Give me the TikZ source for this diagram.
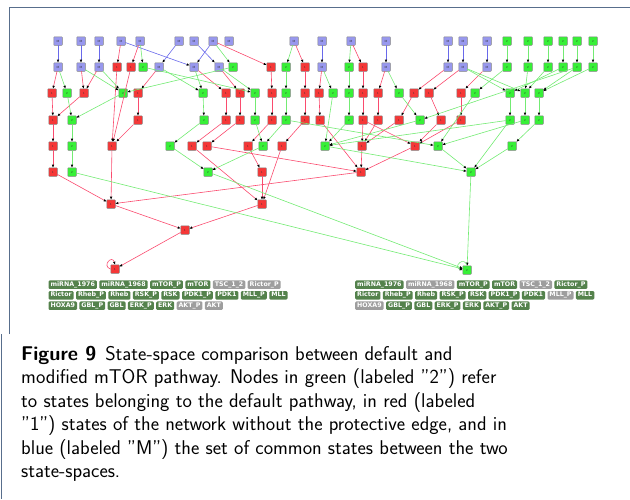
\documentclass[tikz,border=0pt]{standalone}
\usepackage{fontspec}
\newfontfamily\tagfont{DejaVu Sans}
\usepackage{tikz}
\usetikzlibrary{arrows.meta}
\usetikzlibrary{positioning}
\definecolor{stM}{RGB}{152,152,238}
\definecolor{stR}{RGB}{245,55,55}
\definecolor{stG}{RGB}{55,240,55}
\definecolor{stedge}{RGB}{130,130,130}
\definecolor{edM}{RGB}{105,105,235}
\definecolor{edR}{RGB}{250,75,110}
\definecolor{edG}{RGB}{115,235,115}
\definecolor{tagon}{RGB}{84,130,76}
\definecolor{tagoff}{RGB}{158,158,158}
\definecolor{framec}{RGB}{88,110,140}
\begin{document}
\begin{tikzpicture}[line cap=round,line join=round,>={Triangle[length=2.8pt,width=2.2pt,color=black]},x=1pt,y=-1pt,
  st/.style={draw=stedge,line width=0.5pt,fill=st#1,rounded corners=0.6pt,minimum size=8.5pt,inner sep=0pt,font=\sffamily\fontsize{3}{3}\selectfont,text=black!80},
  eM/.style={->,draw=edM,line width=0.6pt},
  eR/.style={->,draw=edR,line width=0.6pt},
  eG/.style={->,draw=edG,line width=0.6pt},
  tag/.style={fill=#1,rounded corners=1.2pt,text=white,font=\tagfont\bfseries\fontsize{6.3}{7}\selectfont,inner xsep=2pt,inner ysep=1.3pt,text height=4.6pt,text depth=1.3pt}]
\useasboundingbox (0,0) rectangle (630,499);
\draw [framec,line width=1pt,line cap=butt] (9.3,334)-- (9.3,7.3)-- (630,7.3);
\draw [framec,line width=1pt,line cap=butt] (1.2,334)-- (1.2,499);
\draw (58,41) node[st=M] (a1) {M};
\draw (81,41) node[st=M] (a2) {M};
\draw (99,41) node[st=M] (a3) {M};
\draw (121,41) node[st=M] (a4) {M};
\draw (140,41) node[st=M] (a5) {M};
\draw (179,41) node[st=M] (a6) {M};
\draw (194,41) node[st=M] (a7) {M};
\draw (213,41) node[st=M] (a8) {M};
\draw (229,41) node[st=M] (a9) {M};
\draw (294,41) node[st=M] (a10) {M};
\draw (322,41) node[st=M] (a11) {M};
\draw (351,41) node[st=M] (a12) {M};
\draw (386,41) node[st=M] (a13) {M};
\draw (448,41) node[st=M] (a14) {M};
\draw (463,41) node[st=M] (a15) {M};
\draw (487,41) node[st=M] (a16) {M};
\draw (507,41) node[st=G] (a17) {2};
\draw (528,41) node[st=G] (a18) {2};
\draw (548,41) node[st=G] (a19) {2};
\draw (563,41) node[st=G] (a20) {2};
\draw (577,41) node[st=G] (a21) {2};
\draw (593,41) node[st=G] (a22) {2};
\draw (58,67) node[st=M] (b1) {M};
\draw (81,67) node[st=M] (b2) {M};
\draw (99,67) node[st=M] (b3) {M};
\draw (117,67) node[st=R] (b4) {1};
\draw (131,67) node[st=R] (b5) {1};
\draw (143,67) node[st=G] (b6) {2};
\draw (159,67) node[st=M] (b7) {M};
\draw (194,67) node[st=M] (b8) {M};
\draw (219,67) node[st=M] (b9) {M};
\draw (233,67) node[st=G] (b10) {2};
\draw (271,67) node[st=R] (b11) {1};
\draw (286,67) node[st=G] (b12) {2};
\draw (305,67) node[st=R] (b13) {1};
\draw (322,67) node[st=M] (b14) {M};
\draw (349,67) node[st=G] (b15) {2};
\draw (363,67) node[st=R] (b16) {1};
\draw (386,67) node[st=M] (b17) {M};
\draw (448,67) node[st=M] (b18) {M};
\draw (463,67) node[st=M] (b19) {M};
\draw (487,67) node[st=M] (b20) {M};
\draw (507,67) node[st=G] (b21) {2};
\draw (528,67) node[st=G] (b22) {2};
\draw (548,67) node[st=G] (b23) {2};
\draw (563,67) node[st=G] (b24) {2};
\draw (577,67) node[st=G] (b25) {2};
\draw (593,67) node[st=G] (b26) {2};
\draw (52,93) node[st=R] (c1) {1};
\draw (67,93) node[st=G] (c2) {2};
\draw (84,93) node[st=R] (c3) {1};
\draw (123,93) node[st=G] (c4) {2};
\draw (138,93) node[st=R] (c5) {1};
\draw (203,93) node[st=G] (c6) {2};
\draw (226,93) node[st=R] (c7) {1};
\draw (240,93) node[st=R] (c8) {1};
\draw (255,93) node[st=G] (c9) {2};
\draw (272,93) node[st=R] (c10) {1};
\draw (286,93) node[st=G] (c11) {2};
\draw (305,93) node[st=R] (c12) {1};
\draw (319,93) node[st=R] (c13) {1};
\draw (333,93) node[st=G] (c14) {2};
\draw (349,93) node[st=G] (c15) {2};
\draw (363,93) node[st=R] (c16) {1};
\draw (378,93) node[st=R] (c17) {1};
\draw (399,93) node[st=G] (c18) {2};
\draw (414,93) node[st=R] (c19) {1};
\draw (429,93) node[st=R] (c20) {1};
\draw (461,93) node[st=R] (c21) {1};
\draw (475,93) node[st=G] (c22) {2};
\draw (510,93) node[st=G] (c23) {2};
\draw (525,93) node[st=G] (c24) {2};
\draw (539,93) node[st=G] (c25) {2};
\draw (53,120) node[st=R] (d1) {1};
\draw (72,120) node[st=G] (d2) {2};
\draw (138,120) node[st=R] (d3) {1};
\draw (204,120) node[st=G] (d4) {2};
\draw (226,120) node[st=R] (d5) {1};
\draw (240,120) node[st=R] (d6) {1};
\draw (255,120) node[st=G] (d7) {2};
\draw (272,120) node[st=R] (d8) {1};
\draw (286,120) node[st=G] (d9) {2};
\draw (305,120) node[st=R] (d10) {1};
\draw (320,120) node[st=R] (d11) {1};
\draw (349,120) node[st=G] (d12) {2};
\draw (363,120) node[st=R] (d13) {1};
\draw (378,120) node[st=R] (d14) {1};
\draw (399,120) node[st=R] (d15) {1};
\draw (420,120) node[st=G] (d16) {2};
\draw (441,120) node[st=R] (d17) {1};
\draw (461,120) node[st=R] (d18) {1};
\draw (510,120) node[st=G] (d19) {2};
\draw (525,120) node[st=G] (d20) {2};
\draw (539,120) node[st=G] (d21) {2};
\draw (53,146) node[st=R] (e1) {1};
\draw (72,146) node[st=G] (e2) {2};
\draw (112,146) node[st=R] (e3) {1};
\draw (170,146) node[st=G] (e4) {2};
\draw (192,146) node[st=R] (e5) {1};
\draw (207,146) node[st=R] (e6) {1};
\draw (248,146) node[st=R] (e7) {1};
\draw (263,146) node[st=G] (e8) {2};
\draw (282,146) node[st=R] (e9) {1};
\draw (325,146) node[st=G] (e10) {2};
\draw (362,146) node[st=R] (e11) {1};
\draw (415,146) node[st=R] (e12) {1};
\draw (438,146) node[st=G] (e13) {2};
\draw (512,146) node[st=G] (e14) {2};
\draw (53,172) node[st=R] (f1) {1};
\draw (72,172) node[st=G] (f2) {2};
\draw (208,172) node[st=G] (f3) {2};
\draw (262,172) node[st=R] (f4) {1};
\draw (361,172) node[st=R] (f5) {1};
\draw (471,172) node[st=G] (f6) {2};
\draw (111,204) node[st=R] (g1) {1};
\draw (262,204) node[st=R] (g2) {1};
\draw (185,230) node[st=R] (h1) {1};
\draw (115,269) node[st=R] (i1) {1};
\draw (467,270) node[st=G] (i2) {2};
\draw [eM] (a1)-- (b1);
\draw [eM] (a2)-- (b2);
\draw [eM] (a3)-- (b3);
\draw [eM] (a4)-- (b8);
\draw [eM] (a6)-- (b7);
\draw [eM] (a7)-- (b9);
\draw [eM] (a8)-- (b8);
\draw [eM] (a11)-- (b14);
\draw [eM] (a13)-- (b17);
\draw [eM] (a14)-- (b18);
\draw [eM] (a15)-- (b19);
\draw [eM] (a16)-- (b20);
\draw [eR] (a4)-- (b4);
\draw [eR] (a5)-- (b5);
\draw [eR] (a8)-- (b11);
\draw [eR] (a10)-- (b13);
\draw [eR] (a12)-- (b16);
\draw [eR] (b1)-- (c1);
\draw [eR] (b2)-- (c3);
\draw [eR] (b3)-- (c3);
\draw [eR] (b4)-- (e3);
\draw [eR] (b5)-- (e3);
\draw [eR] (b7)-- (c5);
\draw [eR] (b8)-- (c7);
\draw [eR] (b9)-- (c8);
\draw [eR] (b11)-- (c10);
\draw [eR] (b13)-- (c12);
\draw [eR] (b14)-- (c13);
\draw [eR] (b16)-- (c16);
\draw [eR] (b17)-- (c17);
\draw [eR] (b18)-- (c19);
\draw [eR] (b19)-- (c20);
\draw [eR] (b20)-- (c21);
\draw [eR] (c1)-- (d1);
\draw [eR] (c3)-- (d1);
\draw [eR] (c5)-- (d3);
\draw [eR] (c7)-- (d5);
\draw [eR] (c8)-- (d6);
\draw [eR] (c10)-- (d8);
\draw [eR] (c12)-- (d10);
\draw [eR] (c13)-- (d11);
\draw [eR] (c16)-- (d13);
\draw [eR] (c17)-- (d14);
\draw [eR] (c19)-- (d15);
\draw [eR] (c20)-- (d17);
\draw [eR] (c21)-- (d18);
\draw [eR] (d1)-- (e1);
\draw [eR] (d3)-- (e3);
\draw [eR] (d5)-- (e5);
\draw [eR] (d6)-- (e6);
\draw [eR] (d8)-- (e7);
\draw [eR] (d10)-- (e9);
\draw [eR] (d11)-- (f5);
\draw [eR] (d13)-- (e11);
\draw [eR] (d13)-- (e12);
\draw [eR] (d14)-- (e11);
\draw [eR] (d15)-- (e11);
\draw [eR] (d17)-- (e12);
\draw [eR] (d18)-- (e12);
\draw [eR] (e1)-- (f1);
\draw [eR] (e3)-- (g1);
\draw [eR] (e5)-- (g2);
\draw [eR] (e6)-- (f5);
\draw [eR] (e7)-- (f4);
\draw [eR] (e9)-- (g2);
\draw [eR] (e11)-- (f5);
\draw [eR] (e12)-- (f5);
\draw [eR] (f1)-- (g1);
\draw [eR] (f4)-- (g2);
\draw [eR] (f5)-- (g1);
\draw [eR] (g1)-- (h1);
\draw [eR] (g2)-- (h1);
\draw [eR] (h1)-- (i1);
\draw [eR] (i1.west) .. controls +(-9,-3) and +(-3,-10) .. (i1.north);
\draw [eG] (a5)-- (b6);
\draw [eG] (a8)-- (b10);
\draw [eG] (a10)-- (b12);
\draw [eG] (a12)-- (b15);
\draw [eG] (a17)-- (b21);
\draw [eG] (a18)-- (b22);
\draw [eG] (a19)-- (b23);
\draw [eG] (a20)-- (b24);
\draw [eG] (a21)-- (b25);
\draw [eG] (a22)-- (b26);
\draw [eG] (b1)-- (c2);
\draw [eG] (b2)-- (c4);
\draw [eG] (b3)-- (c4);
\draw [eG] (b6)-- (c9);
\draw [eG] (b7)-- (c6);
\draw [eG] (b8)-- (c6);
\draw [eG] (b9)-- (c9);
\draw [eG] (b10)-- (c4);
\draw [eG] (b12)-- (c11);
\draw [eG] (b14)-- (c14);
\draw [eG] (b15)-- (c15);
\draw [eG] (b17)-- (c18);
\draw [eG] (b19)-- (c23);
\draw [eG] (b19)-- (c24);
\draw [eG] (b21)-- (c22);
\draw [eG] (b22)-- (c24);
\draw [eG] (b23)-- (c24);
\draw [eG] (b24)-- (c23);
\draw [eG] (b25)-- (c25);
\draw [eG] (b26)-- (c25);
\draw [eG] (b25)-- (d16);
\draw [eG] (c2)-- (d2);
\draw [eG] (c4)-- (d2);
\draw [eG] (c6)-- (d4);
\draw [eG] (c9)-- (d7);
\draw [eG] (c11)-- (d9);
\draw [eG] (c14)-- (e10);
\draw [eG] (c15)-- (d12);
\draw [eG] (c18)-- (d16);
\draw [eG] (c22)-- (e13);
\draw [eG] (c23)-- (d19);
\draw [eG] (c24)-- (d20);
\draw [eG] (c25)-- (d21);
\draw [eG] (d2)-- (e2);
\draw [eG] (d4)-- (e4);
\draw [eG] (d7)-- (e8);
\draw [eG] (d9)-- (e8);
\draw [eG] (d9)-- (e13);
\draw [eG] (d12)-- (e10);
\draw [eG] (d16)-- (e10);
\draw [eG] (d19)-- (e10);
\draw [eG] (d19)-- (f6);
\draw [eG] (d20)-- (e13);
\draw [eG] (d21)-- (e14);
\draw [eG] (e2)-- (f2);
\draw [eG] (e4)-- (f3);
\draw [eG] (e8)-- (f3);
\draw [eG] (e10)-- (f6);
\draw [eG] (e13)-- (f6);
\draw [eG] (e14)-- (f6);
\draw [eG] (f2)-- (i2);
\draw [eG] (f3)-- (i2);
\draw [eG] (f6)-- (i2);
\draw [eG] (i2.north) .. controls +(-3,-10) and +(-10,-3) .. (i2.west);
\draw (48.3,284.7) node[tag=tagon,anchor=west] (L11) {miRNA\_1976};
\node[tag=tagon,right=2pt of L11] (L12) {miRNA\_1968};
\node[tag=tagon,right=2pt of L12] (L13) {mTOR\_P};
\node[tag=tagon,right=2pt of L13] (L14) {mTOR};
\node[tag=tagoff,right=2pt of L14] (L15) {TSC\_1\_2};
\node[tag=tagoff,right=2pt of L15] (L16) {Rictor\_P};
\draw (48.3,295.3) node[tag=tagon,anchor=west] (L21) {Rictor};
\node[tag=tagon,right=2pt of L21] (L22) {Rheb\_P};
\node[tag=tagon,right=2pt of L22] (L23) {Rheb};
\node[tag=tagon,right=2pt of L23] (L24) {RSK\_P};
\node[tag=tagon,right=2pt of L24] (L25) {RSK};
\node[tag=tagon,right=2pt of L25] (L26) {PDK1\_P};
\node[tag=tagon,right=2pt of L26] (L27) {PDK1};
\node[tag=tagon,right=2pt of L27] (L28) {MLL\_P};
\node[tag=tagon,right=2pt of L28] (L29) {MLL};
\draw (48.3,305.7) node[tag=tagon,anchor=west] (L31) {HOXA9};
\node[tag=tagon,right=2pt of L31] (L32) {GBL\_P};
\node[tag=tagon,right=2pt of L32] (L33) {GBL};
\node[tag=tagon,right=2pt of L33] (L34) {ERK\_P};
\node[tag=tagon,right=2pt of L34] (L35) {ERK};
\node[tag=tagoff,right=2pt of L35] (L36) {AKT\_P};
\node[tag=tagoff,right=2pt of L36] (L37) {AKT};
\draw (355,284.7) node[tag=tagon,anchor=west] (R11) {miRNA\_1976};
\node[tag=tagoff,right=2pt of R11] (R12) {miRNA\_1968};
\node[tag=tagon,right=2pt of R12] (R13) {mTOR\_P};
\node[tag=tagon,right=2pt of R13] (R14) {mTOR};
\node[tag=tagoff,right=2pt of R14] (R15) {TSC\_1\_2};
\node[tag=tagon,right=2pt of R15] (R16) {Rictor\_P};
\draw (355,295.3) node[tag=tagon,anchor=west] (R21) {Rictor};
\node[tag=tagon,right=2pt of R21] (R22) {Rheb\_P};
\node[tag=tagon,right=2pt of R22] (R23) {Rheb};
\node[tag=tagon,right=2pt of R23] (R24) {RSK\_P};
\node[tag=tagon,right=2pt of R24] (R25) {RSK};
\node[tag=tagon,right=2pt of R25] (R26) {PDK1\_P};
\node[tag=tagon,right=2pt of R26] (R27) {PDK1};
\node[tag=tagoff,right=2pt of R27] (R28) {MLL\_P};
\node[tag=tagon,right=2pt of R28] (R29) {MLL};
\draw (355,305.7) node[tag=tagoff,anchor=west] (R31) {HOXA9};
\node[tag=tagon,right=2pt of R31] (R32) {GBL\_P};
\node[tag=tagon,right=2pt of R32] (R33) {GBL};
\node[tag=tagon,right=2pt of R33] (R34) {ERK\_P};
\node[tag=tagon,right=2pt of R34] (R35) {ERK};
\node[tag=tagon,right=2pt of R35] (R36) {AKT\_P};
\node[tag=tagon,right=2pt of R36] (R37) {AKT};
\draw (21,346) node[anchor=north west,inner sep=0pt,align=left,font=\sffamily\fontsize{19.9}{23.5}\selectfont] (cap) {\textbf{Figure 9}\hspace{0.45em}State-space comparison between default and\\
modified mTOR pathway. Nodes in green (labeled "2") refer\\
to states belonging to the default pathway, in red (labeled\\
"1") states of the network without the protective edge, and in\\
blue (labeled "M") the set of common states between the two\\
state-spaces.};
\end{tikzpicture}
\end{document}
